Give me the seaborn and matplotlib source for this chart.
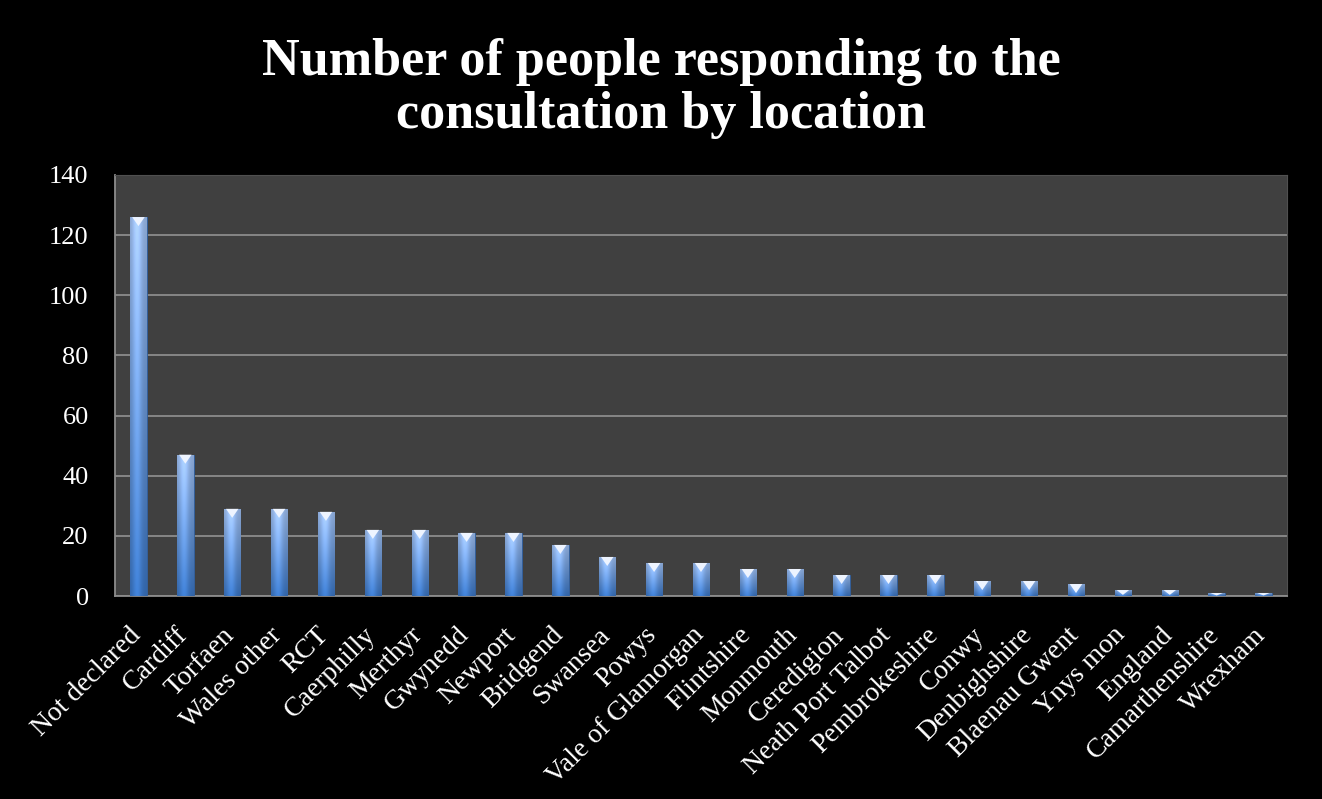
import numpy as np
import pandas as pd
import matplotlib
matplotlib.use("Agg")
from matplotlib import pyplot as plt
from matplotlib.colors import to_rgb
from matplotlib.patches import Polygon
from matplotlib.transforms import ScaledTranslation
import seaborn as sns

locations = ['Not declared', 'Cardiff', 'Torfaen', 'Wales other', 'RCT', 'Caerphilly',
             'Merthyr', 'Gwynedd', 'Newport', 'Bridgend', 'Swansea', 'Powys',
             'Vale of Glamorgan', 'Flintshire', 'Monmouth', 'Ceredigion',
             'Neath Port Talbot', 'Pembrokeshire', 'Conwy', 'Denbighshire',
             'Blaenau Gwent', 'Ynys mon', 'England', 'Camarthenshire', 'Wrexham']
counts = [126, 47, 29, 29, 28, 22, 22, 21, 21, 17, 13, 11, 11, 9, 9, 7, 7, 7, 5, 5, 4, 2, 2, 1, 1]
y_ticks = [0, 20, 40, 60, 80, 100, 120, 140]

df = pd.DataFrame({'Location': locations, 'Count': counts})

sns.set_style("dark")
plt.rcParams['font.family'] = ['Liberation Serif', 'DejaVu Serif']

fig = plt.figure(figsize=(13.22, 7.99), dpi=100, facecolor='black')
ax = fig.add_axes([0.087, 0.254, 0.8865, 0.527])
ax.set_facecolor('#404040')

sns.barplot(x='Location', y='Count', data=df, color='#4f86d4', width=0.35, ax=ax, zorder=3)

ax.set_ylim(0, 140)
ax.set_xlim(-0.5, len(locations) - 0.5)
ax.set_yticks(y_ticks)
ax.yaxis.grid(True, color='#8c8c8c', linewidth=1.3, zorder=0)
ax.xaxis.grid(False)
ax.set_axisbelow(True)
for side in ['left', 'bottom']:
    ax.spines[side].set_color('#8c8c8c')
    ax.spines[side].set_linewidth(1.3)
for side in ['top', 'right']:
    ax.spines[side].set_color('#505050')

# cylinder-like gradient on each bar: light at top, darker at bottom
top_col = np.array(to_rgb('#a6c8fc'))
bot_col = np.array(to_rgb('#3d7acb'))
nx, ny = 64, 64
hx = np.linspace(0, 1, nx)
vy = np.linspace(0, 1, ny)
hfac = 0.82 + 0.26 * np.exp(-((hx - 0.42) / 0.28) ** 2)
for p in list(ax.patches):
    x0, y0 = p.get_x(), p.get_y()
    w, h = p.get_width(), p.get_height()
    col = bot_col[None, :] + (top_col - bot_col)[None, :] * vy[:, None]
    rgb = np.clip(col[:, None, :] * hfac[None, :, None], 0, 1)
    im = ax.imshow(rgb, extent=[x0, x0 + w, y0, y0 + h], origin='lower',
                   aspect='auto', zorder=3.5, interpolation='bilinear')
    im.set_clip_path(p)
    p.set_edgecolor('#2f5f9e')
    p.set_linewidth(0.6)
    # small white bevel triangle at the top
    th = min(3.0, h * 0.8)
    tri = Polygon([[x0 + w * 0.12, y0 + h], [x0 + w * 0.88, y0 + h], [x0 + w / 2, y0 + h - th]],
                  closed=True, facecolor='#eef4ff', edgecolor='none', zorder=4)
    ax.add_patch(tri)

ax.set_xlabel('')
ax.set_ylabel('')
ax.tick_params(axis='x', colors='white', length=0, pad=19)
ax.tick_params(axis='y', colors='white', length=0, pad=19)
shift = ScaledTranslation(-10 / 100, 0, fig.dpi_scale_trans)
for lbl in ax.get_xticklabels():
    lbl.set_rotation(45)
    lbl.set_ha('right')
    lbl.set_rotation_mode('anchor')
    lbl.set_fontsize(20)
    lbl.set_transform(lbl.get_transform() + shift)
plt.setp(ax.get_yticklabels(), fontsize=19)

fig.text(0.5, 0.889, 'Number of people responding to the\nconsultation by location',
         ha='center', va='center', color='white', fontsize=37.5, fontweight='bold',
         linespacing=1.13)

fig.savefig('out.png', dpi=100, facecolor='black')
